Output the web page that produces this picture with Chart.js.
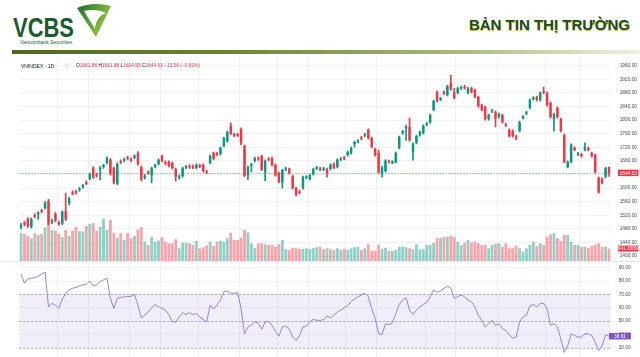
<!DOCTYPE html>
<html><head><meta charset="utf-8">
<script src="https://cdn.jsdelivr.net/npm/chart.js@4.4.1/dist/chart.umd.min.js"></script>
<style>
html,body{margin:0;padding:0;background:#fff;width:640px;height:357px;overflow:hidden;font-family:"Liberation Sans",Arial,sans-serif;}
.abs{position:absolute;}
#bar{left:12px;top:50px;width:628px;height:4px;background:linear-gradient(90deg,#4b6a1e 0%,#6b8633 35%,#a7b878 70%,#eef2e2 100%);}
#title{right:10px;top:16px;font:bold 15px "Liberation Sans",Arial,sans-serif;line-height:17px;color:#1b4d1f;text-shadow:0.6px 0.6px 0 #d6c35a;white-space:nowrap;}
#pc{left:0;top:57px;}
#rc{left:0;top:261px;}
#sep{left:0;top:261px;width:640px;height:1px;background:#e6e8ee;}
#sym{left:21px;top:62.7px;font-size:5px;line-height:6px;color:#131722;white-space:nowrap;}
#dot{left:64px;top:62.5px;width:6px;height:6px;border-radius:50%;background:#eceef2;}
#ohlc{left:76px;top:62.9px;font-size:4.8px;line-height:6px;color:#f23645;white-space:nowrap;}
#ohlc b{font-weight:normal;color:#131722;}
</style></head>
<body>
<svg class="abs" style="left:0;top:0" width="120" height="48">
 <defs><linearGradient id="lg" x1="0" y1="0" x2="1" y2="0.6"><stop offset="0" stop-color="#1d6a33"/><stop offset="1" stop-color="#9ccc3f"/></linearGradient></defs>
 <text x="13" y="37" font-family="Liberation Sans" font-weight="bold" font-size="27" fill="#1d5b2b" textLength="61" lengthAdjust="spacingAndGlyphs">VCBS</text>
 <path d="M77,8 C88,3 100,3 111,6 L96,37 Z" fill="url(#lg)"/>
 <path d="M84,11 C92,9 100,10 106,13 C100,15 96,20 95,29 Z" fill="#fff"/>
 <text x="20" y="44" font-size="5" fill="#1d5b2b" font-family="Liberation Sans">Vietcombank Securities</text>
</svg>
<div id="title" class="abs">BẢN TIN THỊ TRƯỜNG</div>
<div id="bar" class="abs"></div>
<canvas id="pc" class="abs" width="640" height="204"></canvas>
<div id="sep" class="abs"></div>
<canvas id="rc" class="abs" width="640" height="96"></canvas>
<div id="sym" class="abs">VNINDEX · 1D</div>
<div id="dot" class="abs"></div>
<div id="ohlc" class="abs"></div>
<script>
const opens = [1486,1498,1509,1486,1521,1522,1534,1541,1562,1499,
1524,1500,1495,1532,1556,1588,1590,1594,1603,1617,
1627,1659,1640,1655,1662,1674,1683,1659,1613,1679,
1681,1690,1685,1689,1703,1662,1630,1647,1638,1662,
1671,1694,1676,1677,1674,1656,1630,1635,1660,1665,
1664,1659,1667,1668,1649,1674,1703,1702,1700,1724,
1738,1782,1758,1759,1774,1724,1638,1665,1680,1688,
1694,1648,1687,1688,1668,1644,1616,1654,1656,1635,
1600,1590,1600,1630,1627,1641,1657,1658,1654,1656,
1656,1671,1662,1683,1690,1697,1703,1730,1736,1749,
1754,1771,1747,1715,1703,1642,1650,1679,1674,1677,
1718,1763,1776,1780,1706,1733,1756,1762,1786,1794,
1830,1883,1860,1882,1874,1909,1883,1880,1893,1898,
1880,1894,1888,1868,1844,1838,1803,1825,1824,1809,
1815,1788,1771,1768,1752,1768,1806,1819,1836,1862,
1868,1859,1885,1880,1850,1803,1836,1803,1756,1662,
1677,1718,1698,1700,1712,1718,1703,1697,1630,1627,
1633,1661.88];
const highs = [1496,1502,1513,1512,1525,1531,1538,1560,1567,1509,
1528,1503,1533,1585,1573,1592,1594,1602,1611,1621,
1644,1663,1644,1663,1670,1692,1687,1662,1674,1683,
1688,1694,1689,1698,1707,1665,1640,1651,1662,1670,
1686,1697,1680,1680,1677,1659,1638,1662,1667,1669,
1668,1671,1670,1671,1652,1697,1706,1705,1721,1750,
1768,1792,1762,1762,1777,1727,1665,1673,1691,1692,
1697,1683,1690,1691,1671,1647,1656,1661,1659,1638,
1603,1593,1635,1637,1641,1659,1664,1661,1661,1659,
1671,1674,1686,1690,1693,1709,1721,1738,1743,1752,
1761,1774,1750,1718,1712,1664,1684,1682,1681,1706,
1753,1770,1785,1806,1733,1756,1768,1786,1793,1818,
1859,1886,1867,1886,1903,1932,1894,1897,1900,1902,
1897,1897,1891,1871,1847,1841,1818,1832,1827,1821,
1818,1791,1774,1771,1755,1797,1813,1826,1862,1869,
1871,1883,1897,1883,1853,1821,1839,1806,1759,1680,
1730,1721,1705,1703,1733,1721,1706,1700,1633,1630,
1661,1661.88];
const lows = [1480,1489,1484,1482,1512,1508,1527,1538,1492,1495,
1500,1490,1492,1504,1550,1580,1582,1590,1600,1610,
1624,1628,1632,1625,1658,1671,1638,1612,1609,1672,
1677,1683,1678,1686,1667,1621,1626,1640,1615,1659,
1668,1677,1669,1662,1656,1620,1626,1632,1657,1658,
1657,1656,1660,1647,1642,1671,1683,1695,1697,1721,
1735,1757,1751,1752,1728,1633,1625,1648,1677,1681,
1651,1622,1680,1665,1635,1615,1600,1651,1641,1597,
1577,1583,1597,1627,1624,1638,1654,1651,1651,1632,
1653,1656,1659,1680,1683,1694,1700,1720,1733,1742,
1751,1744,1718,1694,1643,1632,1647,1673,1671,1674,
1715,1758,1740,1738,1682,1730,1753,1759,1783,1791,
1827,1853,1857,1875,1871,1888,1862,1877,1890,1891,
1877,1880,1865,1838,1827,1800,1800,1822,1780,1806,
1791,1781,1750,1750,1742,1765,1803,1816,1833,1859,
1856,1856,1878,1841,1806,1768,1806,1765,1674,1659,
1674,1709,1695,1691,1709,1709,1691,1644,1585,1612,
1630,1634.55];
const closes = [1492,1493,1487,1508,1516,1528,1530,1556,1496,1505,
1504,1494,1530,1508,1570,1583,1586,1599,1608,1613,
1641,1631,1636,1660,1667,1688,1642,1616,1671,1675,
1685,1686,1681,1695,1670,1625,1636,1643,1659,1667,
1683,1680,1672,1665,1659,1633,1634,1659,1664,1661,
1660,1668,1663,1650,1645,1694,1686,1698,1718,1747,
1765,1760,1754,1755,1731,1636,1662,1670,1688,1684,
1654,1680,1683,1668,1638,1618,1653,1658,1644,1600,
1580,1586,1632,1634,1638,1656,1661,1654,1658,1644,
1668,1659,1683,1687,1686,1706,1718,1735,1740,1745,
1758,1747,1721,1697,1646,1660,1680,1676,1678,1703,
1750,1767,1781,1741,1730,1753,1765,1783,1790,1815,
1856,1856,1864,1878,1900,1891,1865,1894,1897,1894,
1894,1883,1868,1841,1830,1803,1815,1829,1806,1818,
1794,1784,1753,1753,1748,1794,1810,1823,1859,1866,
1859,1880,1881,1844,1809,1818,1809,1768,1677,1677,
1727,1712,1702,1694,1721,1712,1694,1647,1588,1615,
1658.19,1644.63];
const volumes = [1427,1390,1288,1169,1427,1339,1390,1736,1942,1597,
1560,1390,1221,1597,1288,1560,1766,1530,1530,1803,
1906,1942,1560,1766,2178,1597,2112,1457,1200,1427,
1082,1427,1169,1288,1597,1736,994,824,1251,994,
1045,1221,994,912,912,1118,654,942,942,912,
824,1030,654,706,809,994,773,994,1030,994,
1169,1457,1082,1082,1200,1597,1478,912,654,912,
912,860,824,824,736,860,1082,603,567,685,
654,618,633,654,618,654,706,736,603,654,
603,567,654,567,633,567,654,706,736,567,
654,860,530,530,824,633,685,515,515,567,
736,736,706,654,603,860,603,603,824,824,
942,1169,1200,1251,1251,1303,1251,994,824,942,
1082,942,994,912,824,824,654,824,876,912,
736,912,654,670,788,654,479,654,824,994,
773,912,824,1236,1375,1427,1169,1030,1339,1339,
979,824,824,736,736,685,788,824,912,736,
736,641.208];
const rsi = [85.4,78.4,81.6,82.1,82.5,83.4,85.2,86.7,60.6,63.2,
61.9,59.4,66.5,70.5,73.3,74.6,75.1,76.5,77.1,77.6,
80.1,76.3,77.1,79.6,80.9,82.1,67,59.4,67,67.7,
68.2,68.2,68.5,70,61.9,52.3,54.3,56.8,59.9,62.4,
60.6,59.5,58.1,54.8,49.3,49.3,53,56.3,54.8,56.3,
54.8,55.6,53,51,49.3,61.9,58.9,61.9,65.7,72,
72.5,70.8,70.8,71.5,59.4,40.4,45.5,47,49.3,48.5,
43.7,49.3,49.7,46.7,42.2,38.6,45.5,46.2,44.2,37.9,
35.3,39.1,45.5,46.2,49.3,51.3,50.5,50.5,51,53.8,
52.3,54.5,56.8,58.1,59.9,61.5,64.5,66.5,68.2,69.5,
70.8,68.2,59.4,51.8,40.4,39.9,48,47.2,48.7,55.6,
62.4,65.7,67.5,58.1,54.8,58.1,60.6,62.4,63.9,68.2,
73.3,71.5,72.5,74.6,76.1,74.6,67,68.2,69.5,68.2,
65.7,64.4,60.6,54.3,50.5,45.5,48,50.5,46.7,48,
44.2,42.9,39.6,37.1,37.9,49.3,53,54.3,61.4,62.4,
60.6,63.2,63.2,59.4,46.7,48,45.5,36.6,26.5,31.5,
40.4,39.1,37.9,37.9,40.4,40.4,39.1,34.1,27.8,31.5,
39.6,38.61];
const priceTicks = [1400,1440,1480,1520,1560,1600,1640,1680,1720,1760,1800,1840,1880,1920,1960];
const rsiTicks = [30,40,50,60,70,80,90];
const rsiLevels = [30,50,70];
const timeGridSessions = [11,20,32,41,52,64,75,84,95,104,118,127,139,153,163];
const volumeLabel = '641.208M';

const UP = '#089981', DOWN = '#f23645';
const labels = closes.map((_, i) => 'S' + (i + 1));
const last = closes.length - 1;
const isUp = closes.map((c, i) => c >= opens[i]);
const candleColors = isUp.map(u => u ? UP : DOWN);
const volColors = isUp.map(u => u ? 'rgba(8,153,129,0.45)' : 'rgba(242,54,69,0.45)');

const chg = closes[last] - closes[last - 1];
const pct = chg / closes[last - 1] * 100;
const fmt = v => (v < 0 ? '\u2212' : '') + Math.abs(v).toFixed(2);
document.getElementById('ohlc').innerHTML =
  '<b>O</b>' + opens[last].toFixed(2) + ' <b>H</b>' + highs[last].toFixed(2) +
  ' <b>L</b>' + lows[last].toFixed(2) + ' <b>C</b>' + closes[last].toFixed(2) +
  ' ' + fmt(chg) + ' (' + fmt(pct) + '%)';

const FONT = {size: 4.8, family: 'Liberation Sans'};
const xScale = {
  offset: true,
  grid: {offset: true, drawTicks: false, lineWidth: 1,
         color: c => timeGridSessions.includes(c.index) ? '#eff1f5' : 'rgba(0,0,0,0)'},
  border: {display: false},
  ticks: {display: false, autoSkip: false},
  afterFit(s) { s.height = 0; }
};
function fitRight(s) { s.width = 29.3; s.paddingTop = 0; s.paddingBottom = 0; }

function tag(ctx, x, w, y, h, bg, text) {
  ctx.save();
  ctx.fillStyle = bg;
  ctx.fillRect(x, y - h / 2, w, h);
  ctx.fillStyle = '#fff';
  ctx.font = '4.8px "Liberation Sans"';
  ctx.textAlign = 'center';
  ctx.textBaseline = 'middle';
  ctx.fillText(text, x + w / 2, y + 0.3);
  ctx.restore();
}

const priceOverlay = {
  id: 'priceOverlay',
  beforeDatasetsDraw(chart) {
    const {ctx, chartArea: a, scales} = chart;
    const y = Math.round(scales.y.getPixelForValue(closes[last])) + 0.5;
    ctx.save();
    ctx.strokeStyle = 'rgba(242,54,69,0.5)';
    ctx.lineWidth = 1;
    ctx.setLineDash([1.5, 1.5]);
    ctx.beginPath(); ctx.moveTo(a.left, y); ctx.lineTo(a.right, y); ctx.stroke();
    ctx.restore();
  },
  afterDraw(chart) {
    const {ctx, scales} = chart;
    tag(ctx, 618, 20.5, scales.y.getPixelForValue(closes[last]), 6.5, DOWN, closes[last].toFixed(2));
    tag(ctx, 618, 20.5, scales.yv.getPixelForValue(volumes[last]), 6, isUp[last] ? UP : DOWN, volumeLabel);
  }
};

new Chart(document.getElementById('pc'), {
  type: 'bar',
  data: {labels, datasets: [
    {data: opens.map((o, i) => [Math.min(o, closes[i]), Math.max(o, closes[i])]),
     backgroundColor: candleColors, grouped: false, categoryPercentage: 1, barPercentage: 0.72,
     minBarLength: 1, yAxisID: 'y'},
    {data: lows.map((l, i) => [l, highs[i]]),
     backgroundColor: candleColors, grouped: false, barThickness: 1, yAxisID: 'y'},
    {data: volumes, backgroundColor: volColors, grouped: false,
     categoryPercentage: 1, barPercentage: 0.82, yAxisID: 'yv'}
  ]},
  options: {
    responsive: false, animation: false, events: [],
    layout: {padding: {left: 19.3, right: 0, top: 0, bottom: 0}},
    plugins: {legend: {display: false}, tooltip: {enabled: false}},
    scales: {
      x: xScale,
      y: {position: 'right', min: 1385.3, max: 1985.7,
          afterBuildTicks(s) { s.ticks = priceTicks.map(v => ({value: v})); },
          grid: {color: '#f1f2f5', drawTicks: false}, border: {display: false},
          ticks: {padding: 9, font: FONT, color: '#4a4e59', callback: v => Number(v).toFixed(2)},
          afterFit: fitRight},
      yv: {display: false, min: 0, max: 10500}
    }
  },
  plugins: [priceOverlay]
});

const rsiOverlay = {
  id: 'rsiOverlay',
  beforeDatasetsDraw(chart) {
    const {ctx, chartArea: a, scales} = chart;
    const yTop = scales.y.getPixelForValue(Math.max(...rsiLevels));
    const yBot = scales.y.getPixelForValue(Math.min(...rsiLevels));
    ctx.save();
    ctx.fillStyle = 'rgba(126,87,194,0.1)';
    ctx.fillRect(a.left, yTop, a.right - a.left, yBot - yTop);
    ctx.strokeStyle = 'rgba(120,123,134,0.6)';
    ctx.lineWidth = 1;
    ctx.setLineDash([2, 2]);
    rsiLevels.forEach(l => {
      const y = Math.round(scales.y.getPixelForValue(l)) + 0.5;
      ctx.beginPath(); ctx.moveTo(a.left, y); ctx.lineTo(a.right, y); ctx.stroke();
    });
    ctx.restore();
  },
  afterDraw(chart) {
    tag(chart.ctx, 609, 22, chart.scales.y.getPixelForValue(rsi[last]), 6.5, '#7e57c2', rsi[last].toFixed(2));
  }
};

new Chart(document.getElementById('rc'), {
  type: 'line',
  data: {labels, datasets: [{data: rsi, borderColor: '#9283d6', borderWidth: 1, pointRadius: 0, tension: 0}]},
  options: {
    responsive: false, animation: false, events: [],
    layout: {padding: {left: 19.3, right: 0, top: 0, bottom: 0}},
    plugins: {legend: {display: false}, tooltip: {enabled: false}},
    scales: {
      x: xScale,
      y: {position: 'right', min: 23.0, max: 95.0,
          afterBuildTicks(s) { s.ticks = rsiTicks.map(v => ({value: v})); },
          grid: {color: '#f1f2f5', drawTicks: false}, border: {display: false},
          ticks: {padding: 8, font: FONT, color: '#4a4e59', callback: v => Number(v).toFixed(2)},
          afterFit: fitRight}
    }
  },
  plugins: [rsiOverlay]
});
</script>
</body></html>
